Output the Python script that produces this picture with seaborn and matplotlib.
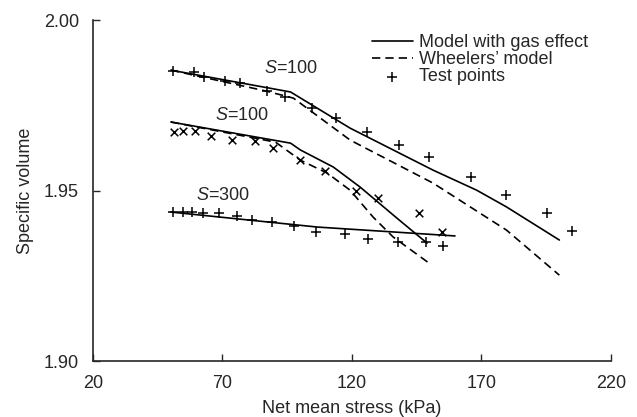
import matplotlib
matplotlib.use("Agg")
import matplotlib.pyplot as plt
import seaborn as sns

# ---- data ----
# Upper S=100 curve
top_model_x = [50.1, 96.3, 119.3, 151.3, 168.2, 179.7, 200.1]
top_model_y = [1.9853, 1.9789, 1.9683, 1.9560, 1.9501, 1.9452, 1.9355]
top_wheeler_x = [50.1, 86.7, 97.4, 119.3, 151.3, 179.7, 200.1]
top_wheeler_y = [1.9853, 1.9792, 1.9771, 1.9648, 1.9522, 1.9384, 1.9252]
top_test_x = [50.9, 59.0, 62.8, 70.9, 76.7, 87.1, 94.3, 104.7, 114.0, 125.9,
              138.2, 149.7, 165.9, 179.4, 195.5, 205.1]
top_test_y = [1.9850, 1.9848, 1.9833, 1.9821, 1.9815, 1.9792, 1.9774, 1.9742,
              1.9713, 1.9672, 1.9633, 1.9598, 1.9540, 1.9487, 1.9434, 1.9381]

# Middle S=100 curve
mid_model_x = [50.1, 96.3, 100.1, 112.8, 123.2, 137.4, 149.0]
mid_model_y = [1.9701, 1.9639, 1.9619, 1.9569, 1.9510, 1.9419, 1.9346]
mid_wheeler_x = [50.1, 90.5, 100.1, 110.5, 119.3, 128.2, 135.9, 149.3]
mid_wheeler_y = [1.9701, 1.9642, 1.9589, 1.9551, 1.9501, 1.9422, 1.9364, 1.9290]
mid_test_x = [51.3, 54.7, 59.3, 65.5, 73.6, 82.4, 89.7, 100.1, 109.7, 121.7,
              130.1, 145.9, 154.7]
mid_test_y = [1.9672, 1.9674, 1.9674, 1.9660, 1.9648, 1.9645, 1.9625, 1.9589,
              1.9557, 1.9499, 1.9478, 1.9434, 1.9378]

# S=300 curve
low_model_x = [50.1, 106.7, 159.8]
low_model_y = [1.9437, 1.9393, 1.9367]
low_test_x = [50.9, 54.7, 58.2, 62.4, 68.6, 75.5, 81.3, 89.0, 97.8, 106.3,
              117.4, 126.3, 137.8, 148.6, 155.1]
low_test_y = [1.9437, 1.9437, 1.9437, 1.9434, 1.9434, 1.9425, 1.9413, 1.9407,
              1.9396, 1.9378, 1.9372, 1.9358, 1.9349, 1.9349, 1.9337]

curve_labels = ["S=100", "S=100", "S=300"]
label_x = [96.3, 77.4, 70.1]
label_y = [1.9859, 1.9721, 1.9487]

x_ticks = [20, 70, 120, 170, 220]
y_ticks = [1.90, 1.95, 2.00]

# ---- plot ----
sns.set_style("ticks")
plt.rcParams["font.family"] = ["Liberation Sans", "DejaVu Sans"]
plt.rcParams["mathtext.fontset"] = "custom"
plt.rcParams["mathtext.it"] = "Liberation Sans:italic"
plt.rcParams["mathtext.rm"] = "Liberation Sans"

fig = plt.figure(figsize=(6.37, 4.17), dpi=100)
ax = fig.add_axes([0.146, 0.134, 0.813, 0.818])

lw = 1.2
dash = (5, 3)
sns.lineplot(x=top_model_x, y=top_model_y, ax=ax, color="black", lw=lw,
             sort=False, label="Model with gas effect")
sns.lineplot(x=top_wheeler_x, y=top_wheeler_y, ax=ax, color="black", lw=lw,
             sort=False, label="Wheelers\u2019 model")
ax.lines[-1].set_dashes(dash)
sns.scatterplot(x=top_test_x, y=top_test_y, ax=ax, marker="+", color="black",
                s=55, linewidth=1.1, label="Test points")

sns.lineplot(x=mid_model_x, y=mid_model_y, ax=ax, color="black", lw=lw, sort=False)
sns.lineplot(x=mid_wheeler_x, y=mid_wheeler_y, ax=ax, color="black", lw=lw, sort=False)
ax.lines[-1].set_dashes(dash)
sns.scatterplot(x=mid_test_x, y=mid_test_y, ax=ax, marker="x", color="black",
                s=30, linewidth=1.1)

sns.lineplot(x=low_model_x, y=low_model_y, ax=ax, color="black", lw=lw, sort=False)
sns.scatterplot(x=low_test_x, y=low_test_y, ax=ax, marker="+", color="black",
                s=55, linewidth=1.1)

for t, xx, yy in zip(curve_labels, label_x, label_y):
    s_part, rest = t.split("=")
    ax.text(xx, yy, r"$\mathit{" + s_part + "}$=" + rest, ha="center", va="center",
            fontsize=13)

ax.set_xlim(20, 220)
ax.set_ylim(1.90, 2.00)
ax.set_xticks(x_ticks)
ax.set_yticks(y_ticks)
ax.set_yticklabels([f"{v:.2f}" for v in y_ticks])
ax.tick_params(direction="in", length=5, width=1, labelsize=13)
ax.tick_params(axis="x", pad=10)
ax.tick_params(axis="y", pad=10)
for sp in ["top", "right"]:
    ax.spines[sp].set_visible(False)
for sp in ["left", "bottom"]:
    ax.spines[sp].set_linewidth(1.2)
ax.set_xlabel("Net mean stress (kPa)", fontsize=13, labelpad=6)
ax.set_ylabel("Specific volume", fontsize=13, labelpad=7)

leg = ax.legend(loc="upper left", bbox_to_anchor=(0.524, 0.979), frameon=False,
                fontsize=13, handlelength=2.3, handletextpad=0.3, labelspacing=0.0,
                borderaxespad=0)

fig.savefig("out.png", dpi=100)
